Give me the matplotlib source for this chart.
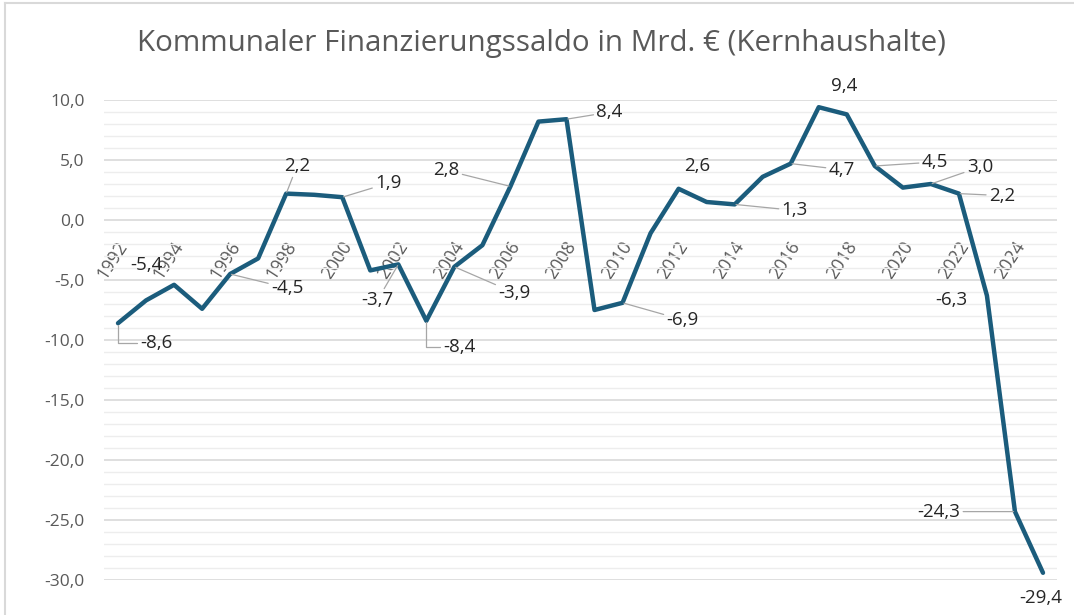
import matplotlib
matplotlib.use('Agg')
import matplotlib.pyplot as plt
from matplotlib.ticker import MultipleLocator, FuncFormatter
from matplotlib.transforms import offset_copy
from matplotlib.lines import Line2D

plt.rcParams['font.family'] = ['Open Sans', 'DejaVu Sans']

# Daten (Mrd. €)
years = list(range(1992, 2026))
saldo = [-8.6, -6.7, -5.4, -7.4, -4.5, -3.2, 2.2, 2.1, 1.9, -4.2,
         -3.7, -8.4, -3.9, -2.1, 2.8, 8.2, 8.4, -7.5, -6.9, -1.1,
         2.6, 1.5, 1.3, 3.6, 4.7, 9.4, 8.8, 4.5, 2.7, 3.0,
         2.2, -6.3, -24.3, -29.4]
tick_years = list(range(1992, 2025, 2))
title = 'Kommunaler Finanzierungssaldo in Mrd. € (Kernhaushalte)'

# Beschriftungen: Jahr -> (dx px, dy px, Führungslinie, Verbindung)
label_pos = {
    1992: (38, -20, True, 'angle,angleA=0,angleB=90,rad=0'),
    1994: (-28, 20, False, None),
    1996: (57, -14, True, None),
    1998: (11, 28, True, None),
    2000: (46, 14, True, None),
    2002: (-21, -36, True, None),
    2003: (33, -26, True, 'angle,angleA=0,angleB=90,rad=0'),
    2004: (60, -26, True, None),
    2006: (-64, 16, True, None),
    2008: (43, 7, True, None),
    2010: (60, -17, True, None),
    2012: (19, 23, False, None),
    2014: (60, -6, True, None),
    2016: (51, -6, True, None),
    2017: (25, 21, False, None),
    2019: (60, 4, True, None),
    2021: (49, 17, True, None),
    2022: (43, -2, True, None),
    2023: (-36, -4, False, None),
    2024: (-76, 0, True, None),
    2025: (-2, -25, False, None),
}


def de(v):
    return f'{v:.1f}'.replace('.', ',')


fig = plt.figure(figsize=(10.74, 6.15), dpi=100)
ax = fig.add_axes([104 / 1074, 35 / 615, 953 / 1074, 480 / 615])

ax.set_xlim(1991.5, 2025.5)
ax.set_ylim(-30, 10)
ax.yaxis.set_major_locator(MultipleLocator(5))
ax.yaxis.set_minor_locator(MultipleLocator(1))
ax.yaxis.set_major_formatter(FuncFormatter(lambda v, p: de(v)))
ax.grid(which='major', axis='y', color='#D9D9D9', lw=1.2, zorder=0)
ax.grid(which='minor', axis='y', color='#EDEDED', lw=1.0, zorder=0)
ax.set_xticks([])
ax.tick_params(axis='y', which='both', length=0, labelsize=12.5,
               labelcolor='#595959', pad=14)
for s in ax.spines.values():
    s.set_visible(False)

ax.plot(years, saldo, color='#1B5C7C', lw=3.2, zorder=3,
        solid_joinstyle='round', solid_capstyle='round', clip_on=False)

# Jahresachse bei 0
trans = offset_copy(ax.transData, fig=fig, x=6, y=-23, units='dots')
for y in tick_years:
    ax.text(y, 0, str(y), transform=trans, rotation=57, ha='right',
            va='center', rotation_mode='anchor', fontsize=13,
            color='#595959', zorder=1)

# Datenbeschriftungen
for yr, (dx, dy, leader, conn) in label_pos.items():
    v = saldo[years.index(yr)]
    arrow = None
    if leader:
        arrow = dict(arrowstyle='-', color='#A6A6A6', lw=0.9,
                     shrinkA=0, shrinkB=1,
                     connectionstyle=conn or 'arc3')
    ax.annotate(de(v), xy=(yr, v), xytext=(dx, dy),
                textcoords='offset pixels', ha='center', va='center',
                fontsize=13.5, color='#262626', arrowprops=arrow,
                zorder=4, annotation_clip=False)

fig.text(541 / 1074, 1 - 43 / 615, title, ha='center', va='center',
         fontsize=21.3, color='#595959')

# Rahmen
fig.add_artist(Line2D([5 / 1074, 5 / 1074], [0, 1 - 3 / 615],
                      transform=fig.transFigure, color='#D9D9D9', lw=1.5))
fig.add_artist(Line2D([5 / 1074, 1], [1 - 3 / 615, 1 - 3 / 615],
                      transform=fig.transFigure, color='#D9D9D9', lw=1.5))

fig.savefig('out.png', dpi=100)
